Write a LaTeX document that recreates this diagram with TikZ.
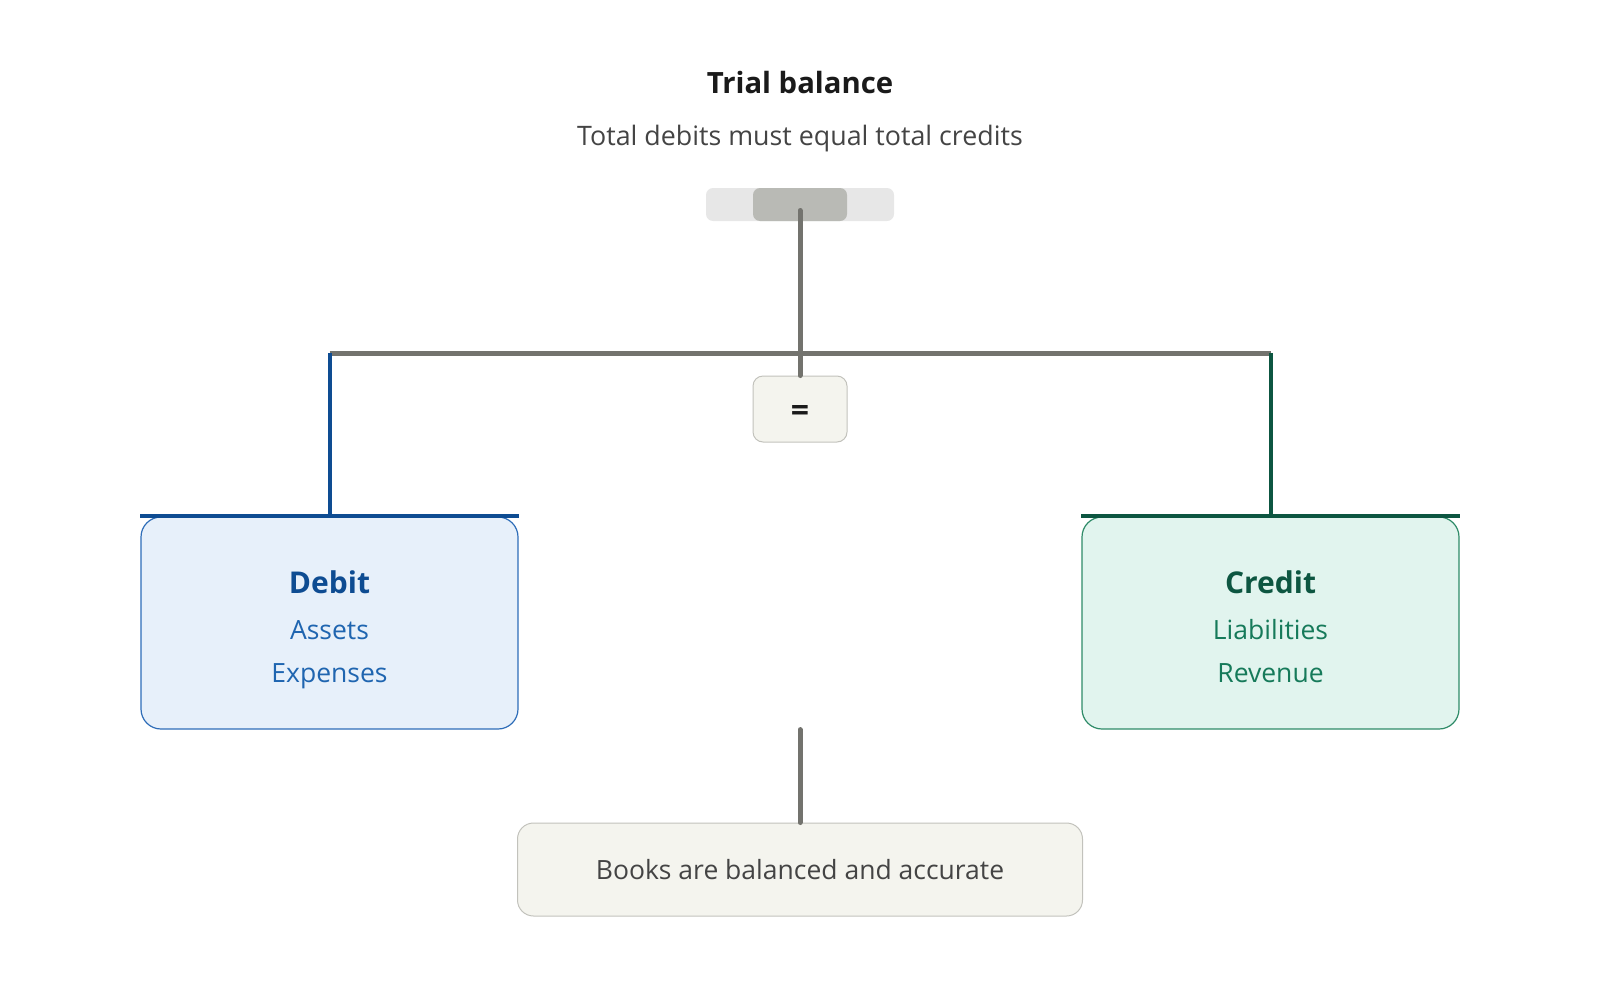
\documentclass[tikz,border=0pt]{standalone}
\usepackage{fontspec}
\setmainfont{Open Sans}
\usetikzlibrary{positioning}
\definecolor{inkblack}{HTML}{1A1A1A}
\definecolor{inkgray}{HTML}{444444}
\definecolor{beamgray}{HTML}{73736E}
\definecolor{trackgray}{HTML}{E7E7E7}
\definecolor{thumbgray}{HTML}{B9BAB5}
\definecolor{paper}{HTML}{F4F4EE}
\definecolor{paperline}{HTML}{C2C2BC}
\definecolor{debitdark}{HTML}{0E4C92}
\definecolor{debitmid}{HTML}{1F65B0}
\definecolor{debitfill}{HTML}{E7F0FA}
\definecolor{debitline}{HTML}{2E6DB8}
\definecolor{creditdark}{HTML}{0D5641}
\definecolor{creditmid}{HTML}{167A5A}
\definecolor{creditfill}{HTML}{E1F4EE}
\definecolor{creditline}{HTML}{2E8B68}
\tikzset{panbox/.style={rectangle, rounded corners=20pt, line width=1.2pt, minimum width=377pt, minimum height=212pt, inner sep=0pt},
  pantitle/.style={font=\bfseries\fontsize{30}{34}\selectfont},
  panitem/.style={font=\fontsize{26.5}{30}\selectfont, text height=20pt, text depth=6pt, inner sep=0pt}}

\begin{document}
\begin{tikzpicture}[
        x=1pt, y=-1pt,
        post/.style={beamgray, line width=5pt, line cap=round},
        notebox/.style={rectangle, fill=paper, draw=paperline, line width=1pt, inner sep=0pt}
    ]
        \useasboundingbox (0,0) rectangle (1600,988);
        % Heading
        \node[font=\bfseries\fontsize{29.3}{34}\selectfont, text=inkblack] (title) at (800,83) {Trial balance};
        \node[font=\fontsize{26.8}{30}\selectfont, text=inkgray] (subtitle) at (800,139) {Total debits must equal total credits};
        % Scale top
        \node[rectangle, rounded corners=7pt, fill=trackgray, minimum width=188pt, minimum height=33pt, inner sep=0pt] (track) at (800,204.5) {};
        \node[rectangle, rounded corners=7pt, fill=thumbgray, minimum width=94pt, minimum height=33pt, inner sep=0pt] (thumb) at (800,204.5) {};
        \node[notebox, rounded corners=10pt, minimum width=94pt, minimum height=66pt, text height=24pt, text depth=0pt, font=\bfseries\fontsize{32}{34}\selectfont, text=inkblack] (equal) at (800,409) {=};
        % Pans
        \node[panbox, fill=debitfill, draw=debitline] (debit) at (329.5,623) {};
        \node[panbox, fill=creditfill, draw=creditline] (credit) at (1270.5,623) {};
        \node[pantitle, text=debitdark] (debithead) at ([yshift=-66pt]debit.north) {Debit};
        \node[panitem, text=debitmid] (assets) at ([yshift=-116.5pt]debit.north) {Assets};
        \node[panitem, text=debitmid] (expenses) at ([yshift=-159.5pt]debit.north) {Expenses};
        \node[pantitle, text=creditdark] (credithead) at ([yshift=-66pt]credit.north) {Credit};
        \node[panitem, text=creditmid] (liabilities) at ([yshift=-116.5pt]credit.north) {Liabilities};
        \node[panitem, text=creditmid] (revenue) at ([yshift=-159.5pt]credit.north) {Revenue};
        % Result
        \node[notebox, rounded corners=16pt, minimum width=565pt, minimum height=93pt, font=\fontsize{26.5}{30}\selectfont, text=inkgray] (result) at (800,869.5) {Books are balanced and accurate};
        % Beam and posts
        \coordinate (beamleft) at (debit.north |- 0,353);
        \coordinate (beamright) at (credit.north |- 0,353);
        \draw[beamgray, line width=5pt] (beamleft) -- (beamright);
        \draw[post] ([yshift=-6pt]thumb.center) -- (equal.north);
        \draw[debitdark, line width=4pt] (beamleft) -- (debit.north);
        \draw[creditdark, line width=4pt] (beamright) -- (credit.north);
        \draw[debitdark, line width=4pt] (debit.north west) -- (debit.north east);
        \draw[creditdark, line width=4pt] (credit.north west) -- (credit.north east);
        \draw[post] (result.north |- debit.south) -- (result.north);
    \end{tikzpicture}
\end{document}
